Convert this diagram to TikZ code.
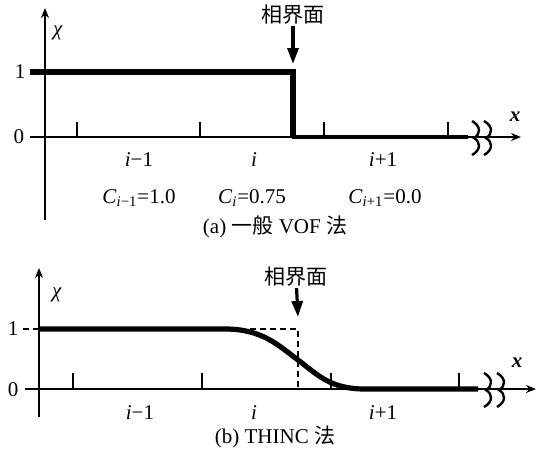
\documentclass[tikz,border=0pt]{standalone}
\usepackage{fontspec}
\setmainfont{Liberation Serif}
\newfontfamily\cjk{Noto Sans CJK SC}
\usetikzlibrary{arrows.meta}

\tikzset{
  axisline/.style={line width=1.2pt,-{Stealth[length=5pt,width=4pt]}},
  stepline/.style={line width=3pt},
  curveline/.style={line width=2.6pt},
  tickmark/.style={line width=1.2pt},
  guideline/.style={line width=1pt,dash pattern=on 3pt off 2pt},
  pointer/.style={line width=1.6pt,-{Triangle[length=8pt,width=5.5pt]}},
  breakmark/.style={line width=1.2pt},
  lbl/.style={inner sep=0.5pt,font=\fontsize{10.5}{12}\selectfont},
  axisbreak/.pic={
    \draw[breakmark] (-3,-17) .. controls (6,-12) and (6,-4) .. (-1,0)
      .. controls (6,4) and (6,12) .. (-3,17);
  },
}

\begin{document}
\begin{tikzpicture}[x=0.5pt,y=-0.5pt]
  \useasboundingbox (0,0) rectangle (546,456);

  % (a) ordinary VOF
  \coordinate (yA0) at (45,220);
  \coordinate (yA1) at (45,8);
  \coordinate (xA0) at (30,137);
  \coordinate (xA1) at (521,137);
  \draw[axisline] (yA0) -- (yA1);
  \draw[axisline] (xA0) -- (xA1);
  \foreach \t in {77,200,324,448}
    \draw[tickmark] (\t,137) -- (\t,122);
  \draw[stepline] (30,72) -- (293,72) -- (293,137);
  \draw[line width=2pt] (292,137) -- (468,137);
  \pic at (475,138) {axisbreak};
  \pic at (487,138) {axisbreak};

  \node[lbl] (chiA) at (58,33) {\textit{χ}};
  \node[lbl] (xA) at (515,117) {\textbf{\textit{x}}};
  \node[lbl] (oneA) at (20,72) {1};
  \node[lbl] (zeroA) at (19,137) {0};
  \node[lbl] (ifaceA) at (293,15) {\cjk 相界面};
  \coordinate (tipA) at (293,64);
  \draw[pointer] (ifaceA) -- (tipA);

  \node[lbl] (cellA1) at (139,160) {\textit{i}−1};
  \node[lbl] (cellA2) at (254,160) {\textit{i}};
  \node[lbl] (cellA3) at (383,160) {\textit{i}+1};
  \node[lbl] (volA1) at (139,198) {\textit{C}\textsubscript{\textit{i}−1}=1.0};
  \node[lbl] (volA2) at (252,198) {\textit{C}\textsubscript{\textit{i}}=0.75};
  \node[lbl] (volA3) at (385,198) {\textit{C}\textsubscript{\textit{i}+1}=0.0};
  \node[lbl] (capA) at (275,227) {(a) {\cjk 一般} VOF {\cjk 法}};

  % (b) THINC
  \coordinate (yB0) at (39,417);
  \coordinate (yB1) at (39,268);
  \coordinate (xB0) at (25,389);
  \coordinate (xB1) at (536,389);
  \draw[axisline] (yB0) -- (yB1);
  \draw[axisline] (xB0) -- (xB1);
  \foreach \t in {73,202,331,459}
    \draw[tickmark] (\t,389) -- (\t,373);
  \draw[guideline] (23,329) -- (39,329);
  \draw[guideline] (250,329) -- (298,329) -- (298,389);
  \draw[curveline] (39,329) -- (225,329)
    .. controls (262,329) and (278,345) .. (298,360)
    .. controls (318,375) and (330,389) .. (365,389) -- (478,389);
  \pic at (487,390) {axisbreak};
  \pic at (500,390) {axisbreak};

  \node[lbl] (chiB) at (57,295) {\textit{χ}};
  \node[lbl] (xB) at (517,363) {\textbf{\textit{x}}};
  \node[lbl] (oneB) at (13,329) {1};
  \node[lbl] (zeroB) at (13,390) {0};
  \node[lbl] (ifaceB) at (296,277) {\cjk 相界面};
  \coordinate (tipB) at (298,317);
  \draw[pointer] (ifaceB) -- (tipB);

  \node[lbl] (cellB1) at (140,413) {\textit{i}−1};
  \node[lbl] (cellB2) at (254,413) {\textit{i}};
  \node[lbl] (cellB3) at (383,413) {\textit{i}+1};
  \node[lbl] (capB) at (275,437) {(b) THINC {\cjk 法}};
\end{tikzpicture}
\end{document}
